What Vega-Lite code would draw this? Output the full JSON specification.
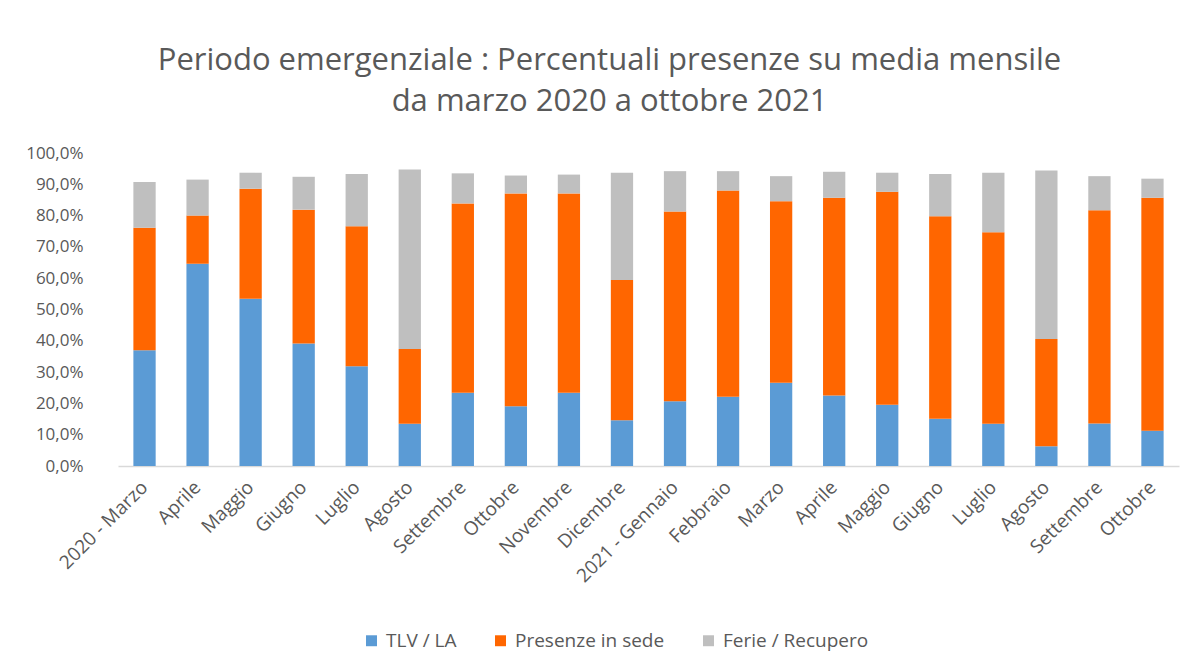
{
  "$schema": "https://vega.github.io/schema/vega-lite/v6.json",
  "autosize": {"type": "none"},
  "width": 1061,
  "height": 313,
  "padding": {"left": 118, "top": 153, "right": 19, "bottom": 206},
  "background": "white",
  "title": {
    "text": ["Periodo emergenziale : Percentuali presenze su media mensile", "da marzo 2020 a ottobre 2021"],
    "font": "Open Sans",
    "fontSize": 31,
    "fontWeight": "normal",
    "color": "#595959",
    "lineHeight": 41,
    "anchor": "middle",
    "dx": -39,
    "offset": 26
  },
  "data": {
    "values": [
      {"periodo": "2020-03", "TLV / LA": 37.0, "Presenze in sede": 39.1, "Ferie / Recupero": 14.6},
      {"periodo": "2020-04", "TLV / LA": 64.6, "Presenze in sede": 15.4, "Ferie / Recupero": 11.5},
      {"periodo": "2020-05", "TLV / LA": 53.4, "Presenze in sede": 35.2, "Ferie / Recupero": 5.1},
      {"periodo": "2020-06", "TLV / LA": 39.1, "Presenze in sede": 42.8, "Ferie / Recupero": 10.5},
      {"periodo": "2020-07", "TLV / LA": 31.9, "Presenze in sede": 44.7, "Ferie / Recupero": 16.7},
      {"periodo": "2020-08", "TLV / LA": 13.5, "Presenze in sede": 23.9, "Ferie / Recupero": 57.3},
      {"periodo": "2020-09", "TLV / LA": 23.4, "Presenze in sede": 60.5, "Ferie / Recupero": 9.6},
      {"periodo": "2020-10", "TLV / LA": 19.1, "Presenze in sede": 68.0, "Ferie / Recupero": 5.7},
      {"periodo": "2020-11", "TLV / LA": 23.4, "Presenze in sede": 63.7, "Ferie / Recupero": 6.0},
      {"periodo": "2020-12", "TLV / LA": 14.6, "Presenze in sede": 44.8, "Ferie / Recupero": 34.3},
      {"periodo": "2021-01", "TLV / LA": 20.7, "Presenze in sede": 60.6, "Ferie / Recupero": 12.9},
      {"periodo": "2021-02", "TLV / LA": 22.1, "Presenze in sede": 65.9, "Ferie / Recupero": 6.2},
      {"periodo": "2021-03", "TLV / LA": 26.6, "Presenze in sede": 58.0, "Ferie / Recupero": 8.0},
      {"periodo": "2021-04", "TLV / LA": 22.5, "Presenze in sede": 63.2, "Ferie / Recupero": 8.3},
      {"periodo": "2021-05", "TLV / LA": 19.6, "Presenze in sede": 68.0, "Ferie / Recupero": 6.1},
      {"periodo": "2021-06", "TLV / LA": 15.1, "Presenze in sede": 64.7, "Ferie / Recupero": 13.5},
      {"periodo": "2021-07", "TLV / LA": 13.5, "Presenze in sede": 61.2, "Ferie / Recupero": 19.0},
      {"periodo": "2021-08", "TLV / LA": 6.3, "Presenze in sede": 34.3, "Ferie / Recupero": 53.8},
      {"periodo": "2021-09", "TLV / LA": 13.6, "Presenze in sede": 68.1, "Ferie / Recupero": 10.9},
      {"periodo": "2021-10", "TLV / LA": 11.3, "Presenze in sede": 74.4, "Ferie / Recupero": 6.1}
    ]
  },
  "transform": [
    {"fold": ["TLV / LA", "Presenze in sede", "Ferie / Recupero"], "as": ["serie", "valore"]},
    {"calculate": "indexof(['TLV / LA', 'Presenze in sede', 'Ferie / Recupero'], datum.serie)", "as": "ordine"}
  ],
  "mark": {"type": "bar"},
  "encoding": {
    "x": {
      "field": "periodo",
      "type": "ordinal",
      "sort": null,
      "title": null,
      "scale": {"paddingInner": 0.58, "paddingOuter": 0.29},
      "axis": {
        "labelExpr": "{'2020-03':'2020 - Marzo','2020-04':'Aprile','2020-05':'Maggio','2020-06':'Giugno','2020-07':'Luglio','2020-08':'Agosto','2020-09':'Settembre','2020-10':'Ottobre','2020-11':'Novembre','2020-12':'Dicembre','2021-01':'2021 - Gennaio','2021-02':'Febbraio','2021-03':'Marzo','2021-04':'Aprile','2021-05':'Maggio','2021-06':'Giugno','2021-07':'Luglio','2021-08':'Agosto','2021-09':'Settembre','2021-10':'Ottobre'}[datum.value]",
        "labelAngle": -45,
        "labelAlign": "right",
        "labelBaseline": "middle",
        "labelFont": "Open Sans",
        "labelFontSize": 19,
        "labelColor": "#595959",
        "labelPadding": 18,
        "ticks": false,
        "domainColor": "#d9d9d9",
        "domainWidth": 1.5,
        "grid": false
      }
    },
    "y": {
      "field": "valore",
      "type": "quantitative",
      "stack": "zero",
      "title": null,
      "scale": {"domain": [0, 100], "nice": false},
      "axis": {
        "values": [0, 10, 20, 30, 40, 50, 60, 70, 80, 90, 100],
        "labelExpr": "replace(format(datum.value, '.1f'), '.', ',') + '%'",
        "labelFont": "Open Sans",
        "labelFontSize": 17,
        "labelColor": "#595959",
        "labelPadding": 35,
        "domain": false,
        "ticks": false,
        "grid": false
      }
    },
    "color": {
      "field": "serie",
      "type": "nominal",
      "title": null,
      "scale": {
        "domain": ["TLV / LA", "Presenze in sede", "Ferie / Recupero"],
        "range": ["#5B9BD5", "#FF6600", "#BFBFBF"]
      },
      "legend": {
        "orient": "none",
        "legendX": 244,
        "legendY": 478,
        "direction": "horizontal",
        "symbolType": "square",
        "symbolSize": 120,
        "symbolStrokeWidth": 0,
        "symbolOffset": 0,
        "labelOffset": 5,
        "labelFont": "Open Sans",
        "labelFontSize": 19,
        "labelColor": "#595959",
        "columnPadding": 34
      }
    },
    "order": {"field": "ordine", "type": "quantitative"}
  },
  "config": {"view": {"stroke": null}}
}
